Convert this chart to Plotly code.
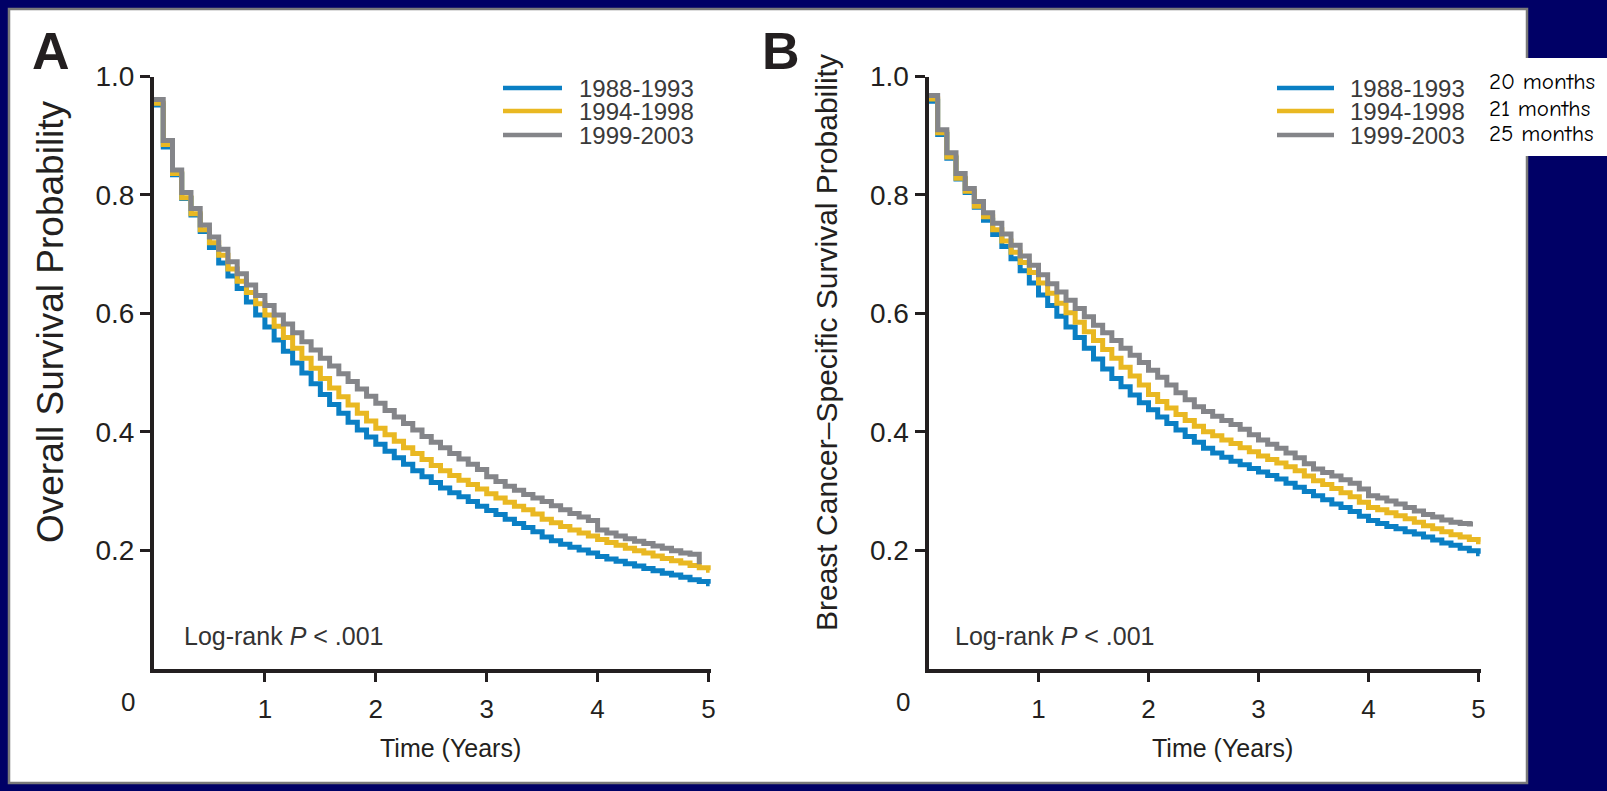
import plotly.graph_objects as go

W, H = 1607, 791


def px(x):
    return x / W


def py(y):
    return 1 - y / H


# ---------------- data ----------------
series_names = ["1988-1993", "1994-1998", "1999-2003"]
median_text = ["20 months", "21 months", "25 months"]
colors = ["#0a7fc4", "#e9b822", "#848589"]

# Panel A: overall survival, monthly Kaplan-Meier levels (month 0, 1, 2, ...)
os_1988 = [0.952, 0.881, 0.834, 0.794, 0.766, 0.738, 0.711, 0.685, 0.663, 0.642,
           0.619, 0.597, 0.577, 0.555, 0.536, 0.516, 0.499, 0.481, 0.463, 0.446,
           0.431, 0.416, 0.403, 0.391, 0.379, 0.367, 0.356, 0.345, 0.334, 0.324,
           0.314, 0.305, 0.297, 0.290, 0.282, 0.274, 0.267, 0.260, 0.252, 0.245,
           0.238, 0.231, 0.222, 0.216, 0.210, 0.205, 0.200, 0.195, 0.189, 0.185,
           0.181, 0.177, 0.173, 0.169, 0.165, 0.161, 0.158, 0.154, 0.150, 0.147,
           0.143]
os_1994 = [0.955, 0.885, 0.836, 0.795, 0.768, 0.741, 0.719, 0.698, 0.675, 0.654,
           0.635, 0.616, 0.597, 0.578, 0.559, 0.541, 0.524, 0.507, 0.490, 0.474,
           0.459, 0.445, 0.431, 0.418, 0.406, 0.395, 0.384, 0.373, 0.363, 0.353,
           0.343, 0.334, 0.326, 0.318, 0.311, 0.303, 0.295, 0.288, 0.281, 0.274,
           0.268, 0.261, 0.252, 0.246, 0.240, 0.234, 0.229, 0.224, 0.218, 0.213,
           0.208, 0.203, 0.199, 0.195, 0.190, 0.186, 0.182, 0.178, 0.174, 0.170,
           0.166]
os_1999 = [0.961, 0.892, 0.842, 0.804, 0.777, 0.749, 0.729, 0.708, 0.687, 0.667,
           0.648, 0.630, 0.613, 0.597, 0.582, 0.567, 0.552, 0.538, 0.524, 0.511,
           0.498, 0.485, 0.472, 0.460, 0.448, 0.436, 0.425, 0.414, 0.403, 0.392,
           0.382, 0.373, 0.363, 0.354, 0.345, 0.336, 0.324, 0.316, 0.308, 0.301,
           0.294, 0.288, 0.282, 0.275, 0.268, 0.262, 0.256, 0.250, 0.234, 0.229,
           0.224, 0.219, 0.215, 0.211, 0.207, 0.203, 0.199, 0.195, 0.193, 0.176]
os_end_years = [5.01, 5.01, 59 / 12]

# Panel B: breast cancer-specific survival, monthly levels
bcss_1988 = [0.958, 0.902, 0.862, 0.827, 0.804, 0.779, 0.757, 0.733, 0.713, 0.692,
             0.672, 0.651, 0.631, 0.613, 0.595, 0.577, 0.559, 0.541, 0.523, 0.506,
             0.490, 0.476, 0.462, 0.449, 0.437, 0.425, 0.414, 0.403, 0.392, 0.382,
             0.372, 0.364, 0.357, 0.350, 0.344, 0.338, 0.332, 0.326, 0.320, 0.313,
             0.306, 0.299, 0.292, 0.285, 0.278, 0.272, 0.265, 0.257, 0.250, 0.245,
             0.240, 0.236, 0.231, 0.227, 0.222, 0.217, 0.212, 0.208, 0.203, 0.199,
             0.194]
bcss_1994 = [0.962, 0.905, 0.864, 0.828, 0.806, 0.781, 0.763, 0.741, 0.722, 0.703,
             0.686, 0.669, 0.651, 0.634, 0.617, 0.601, 0.585, 0.569, 0.554, 0.539,
             0.524, 0.509, 0.494, 0.479, 0.463, 0.451, 0.440, 0.429, 0.419, 0.409,
             0.400, 0.393, 0.386, 0.380, 0.373, 0.366, 0.359, 0.353, 0.347, 0.341,
             0.334, 0.325, 0.317, 0.311, 0.304, 0.297, 0.290, 0.281, 0.272, 0.268,
             0.263, 0.258, 0.253, 0.247, 0.241, 0.236, 0.231, 0.226, 0.222, 0.218,
             0.214]
bcss_1999 = [0.968, 0.910, 0.871, 0.836, 0.811, 0.789, 0.770, 0.752, 0.734, 0.715,
             0.697, 0.681, 0.665, 0.650, 0.636, 0.622, 0.608, 0.594, 0.580, 0.567,
             0.554, 0.541, 0.529, 0.517, 0.504, 0.492, 0.479, 0.466, 0.454, 0.442,
             0.434, 0.426, 0.419, 0.412, 0.404, 0.395, 0.386, 0.379, 0.372, 0.364,
             0.356, 0.346, 0.337, 0.331, 0.325, 0.319, 0.313, 0.303, 0.292, 0.288,
             0.283, 0.278, 0.272, 0.266, 0.260, 0.256, 0.251, 0.247, 0.245, 0.244]
bcss_end_years = [5.01, 5.02, 4.95]

x_ticks = [1, 2, 3, 4, 5]
y_ticks = [0.2, 0.4, 0.6, 0.8, 1.0]
y_ticktext = ["0.2", "0.4", "0.6", "0.8", "1.0"]

panel_letters = ["A", "B"]
y_titles = ["Overall Survival Probability", "Breast Cancer\u2013Specific Survival Probability"]
x_title = "Time (Years)"
pval_text = "Log-rank <i>P</i> < .001"

# ---------------- figure ----------------
INK = "#231f20"
TICKFONT = "Liberation Sans, Arial, Helvetica, sans-serif"

fig = go.Figure()

panels = [
    dict(xa="x", ya="y", data=[os_1988, os_1994, os_1999], ends=os_end_years),
    dict(xa="x2", ya="y2", data=[bcss_1988, bcss_1994, bcss_1999], ends=bcss_end_years),
]

for p in panels:
    for name, col, vals, end in zip(series_names, colors, p["data"], p["ends"]):
        xs = [m / 12 for m in range(len(vals))] + [end]
        ys = list(vals) + [vals[-1]]
        fig.add_trace(go.Scatter(
            x=xs, y=ys, mode="lines", name=name,
            line=dict(color=col, width=5, shape="hv"),
            xaxis=p["xa"], yaxis=p["ya"], showlegend=False, hoverinfo="skip",
        ))

# axis geometry (pixels)
A_x0, B_x0 = 154.0, 928.5
PX_PER_YEAR_A, PX_PER_YEAR_B = 110.9, 110.0
X_MAX = 5.02
Y_TOP, Y_BOT = 76.5, 668.5

common_x = dict(range=[0, X_MAX], tickvals=x_ticks, ticks="outside", ticklen=9, tickwidth=2.5,
                tickcolor=INK, showline=True, linewidth=4, linecolor=INK, showgrid=False,
                zeroline=False, tickfont=dict(family=TICKFONT, size=26, color=INK),
                ticklabelstandoff=5, fixedrange=True, automargin=False)
common_y = dict(range=[0, 1], tickvals=y_ticks, ticktext=y_ticktext, ticks="outside", ticklen=10,
                tickwidth=2.5, tickcolor=INK, showline=True, linewidth=4, linecolor=INK,
                showgrid=False, zeroline=False, tickfont=dict(family=TICKFONT, size=28, color=INK),
                fixedrange=True, automargin=False)

fig.update_layout(
    width=W, height=H,
    margin=dict(l=0, r=0, t=0, b=0, pad=0),
    paper_bgcolor="#000066",
    plot_bgcolor="rgba(0,0,0,0)",
    showlegend=False,
    xaxis=dict(domain=[px(A_x0), px(A_x0 + X_MAX * PX_PER_YEAR_A)], anchor="y", **common_x),
    yaxis=dict(domain=[py(Y_BOT), py(Y_TOP)], anchor="x", **common_y),
    xaxis2=dict(domain=[px(B_x0), px(B_x0 + X_MAX * PX_PER_YEAR_B)], anchor="y2", **common_x),
    yaxis2=dict(domain=[py(Y_BOT), py(Y_TOP)], anchor="x2", **common_y),
)

shapes = []
# white slide panel with grey frame
shapes.append(dict(type="rect", xref="paper", yref="paper", x0=px(9), x1=px(1527), y0=py(783), y1=py(9),
                   fillcolor="white", line=dict(color="#7a7a7a", width=2.5), layer="below"))
# white box holding the medians
shapes.append(dict(type="rect", xref="paper", yref="paper", x0=px(1524), x1=1.0, y0=py(156), y1=py(58),
                   fillcolor="white", line=dict(width=0), layer="below"))

annotations = []
legend_rows = [88, 111, 135]
legend_geo = [(503, 562, 577), (1277, 1334, 1348)]
for (lx0, lx1, tx) in legend_geo:
    for name, col, yy in zip(series_names, colors, legend_rows):
        shapes.append(dict(type="line", xref="paper", yref="paper", x0=px(lx0), x1=px(lx1),
                           y0=py(yy), y1=py(yy), line=dict(color=col, width=4.5)))
        annotations.append(dict(xref="paper", yref="paper", x=px(tx), y=py(yy), text=name,
                                showarrow=False, xanchor="left", yanchor="middle",
                                font=dict(family=TICKFONT, size=24, color="#3a3a3a")))

for txt, yy in zip(median_text, [82, 108, 133]):
    annotations.append(dict(xref="paper", yref="paper", x=px(1487), y=py(yy), text=txt,
                            showarrow=False, xanchor="left", yanchor="middle",
                            font=dict(family="Comic Sans MS, Comic Neue, DejaVu Sans, sans-serif",
                                      size=23, color="black")))

# panel letters
for letter, cx in zip(panel_letters, [51, 781]):
    annotations.append(dict(xref="paper", yref="paper", x=px(cx), y=py(51), text="<b>%s</b>" % letter,
                            showarrow=False, xanchor="center", yanchor="middle",
                            font=dict(family=TICKFONT, size=52, color=INK)))

# y titles
for txt, cx, cy, fs in zip(y_titles, [50, 826], [322, 343], [37, 30]):
    annotations.append(dict(xref="paper", yref="paper", x=px(cx), y=py(cy), text=txt, textangle=-90,
                            showarrow=False, xanchor="center", yanchor="middle",
                            font=dict(family=TICKFONT, size=fs, color=INK)))

# x titles
for cx in [451, 1222]:
    annotations.append(dict(xref="paper", yref="paper", x=px(cx), y=py(748), text=x_title,
                            showarrow=False, xanchor="center", yanchor="middle",
                            font=dict(family=TICKFONT, size=25, color=INK)))

# shared origin label "0"
for xr, yr in [("x", "y"), ("x2", "y2")]:
    annotations.append(dict(xref=xr, yref=yr, x=0, y=0, text="0", showarrow=False,
                            xanchor="center", yanchor="middle", xshift=-26, yshift=-33,
                            font=dict(family=TICKFONT, size=26, color=INK)))

# log-rank text
for lx in [182, 953]:
    annotations.append(dict(xref="paper", yref="paper", x=px(lx), y=py(636), text=pval_text,
                            showarrow=False, xanchor="left", yanchor="middle",
                            font=dict(family=TICKFONT, size=25, color="#333333")))

fig.update_layout(shapes=shapes, annotations=annotations)
fig.write_html("out.html", config={"displayModeBar": False},
               post_script="document.body.style.margin='0';document.body.style.overflow='hidden';")
